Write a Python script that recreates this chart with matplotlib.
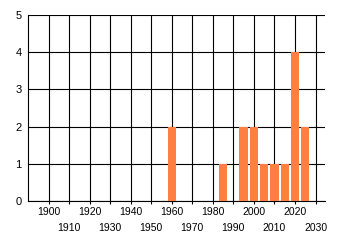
import matplotlib
matplotlib.use("Agg")
import matplotlib.pyplot as plt
from matplotlib.ticker import MultipleLocator, FixedLocator, FormatStrFormatter

years  = [1960, 1985, 1995, 2000, 2005, 2010, 2015, 2020, 2025]
counts = [2, 1, 2, 2, 1, 1, 1, 4, 2]

BAR_COL = '#FF7F40'

plt.rcParams['font.family'] = ['Liberation Sans', 'DejaVu Sans']

fig = plt.figure(figsize=(3.4, 2.45), dpi=100, facecolor='white')
ax = fig.add_axes([0.0824, 0.1796, 0.957 - 0.0824, 0.939 - 0.1796])

ax.bar(years, counts, width=4.1, color=BAR_COL, zorder=3)

ax.set_xlim(1890, 2034.8)
ax.set_ylim(0, 5)

# even decades on the first row, odd decades on the second
ax.xaxis.set_major_locator(FixedLocator(list(range(1900, 2031, 20))))
ax.xaxis.set_minor_locator(FixedLocator(list(range(1910, 2031, 20))))
ax.xaxis.set_minor_formatter(FormatStrFormatter('%d'))
ax.yaxis.set_major_locator(MultipleLocator(1))

ax.grid(True, which='both', color='black', lw=0.8, zorder=1)
ax.set_axisbelow(True)

ax.tick_params(axis='x', which='major', length=2.2, width=0.8, pad=2.0,
               labelsize=7.5, color='black')
ax.tick_params(axis='x', which='minor', length=2.2, width=0.8, pad=13.4,
               labelsize=7.5, color='black')
ax.tick_params(axis='y', length=0, pad=4.5, labelsize=8)

for side in ['top', 'right']:
    ax.spines[side].set_visible(False)
for side in ['left', 'bottom']:
    ax.spines[side].set_linewidth(0.8)

fig.savefig('out.png', dpi=100, facecolor='white')
